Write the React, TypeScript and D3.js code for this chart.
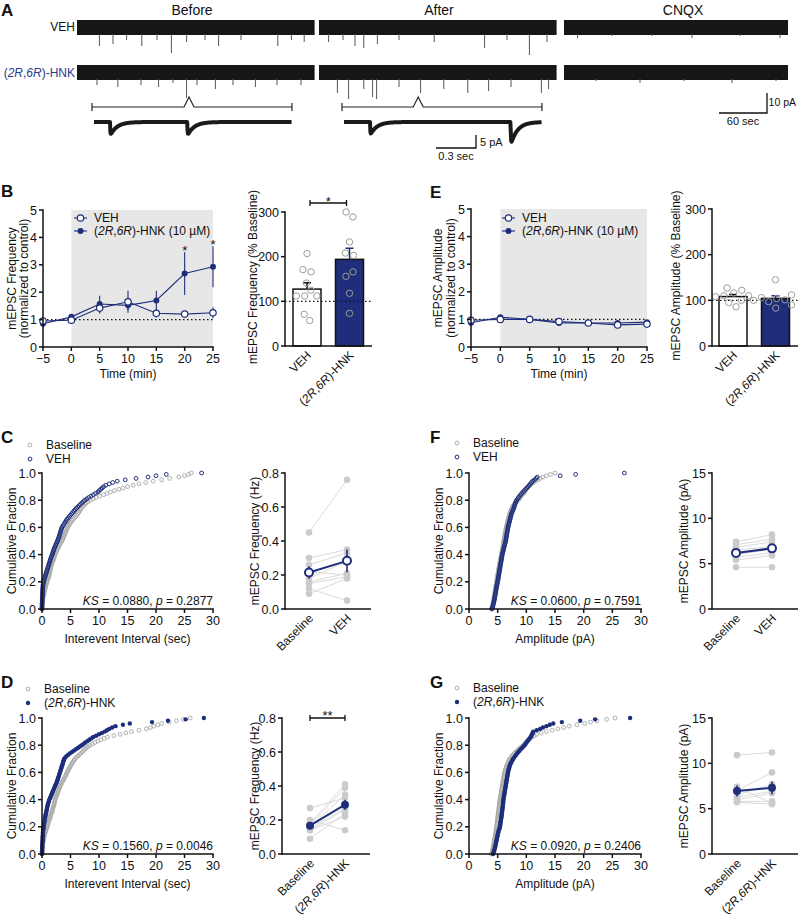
import * as d3 from "d3";

const FONT = "'Liberation Sans', Arial, Helvetica, sans-serif";
const NAVY = "#1f2e7a";
const INK = "#111111";
const GRAY_DOT = "#cbcbcb";
const GRAY_LINE = "#dadada";
const GRAY_OPEN = "#a6a6a6";
const SHADE = "#e7e7e7";

// ---------- A: example traces ----------
const conditions = ["Before", "After", "CNQX"];
const vehEventTimes = [
  [28, 45, 62, 81, 100, 118, 137, 160, 177, 205, 251, 268, 284],
  [12, 30, 45, 56, 73, 100, 144, 207, 235, 263, 285],
  [17, 60, 110, 160, 220, 270],
];
const vehEventAmps = [
  [9, 8, 6, 9, 6, 12.5, 7, 6, 9, 6, 9, 6, 7],
  [7, 6, 9, 10, 8, 6, 7, 10, 6, 13.5, 7],
  [5, 4, 4, 5, 4, 5],
];
const hnkEventTimes = [
  [25, 51, 80, 102, 120, 137, 150, 173, 195, 223, 250, 280],
  [23, 37, 56, 67, 72, 100, 127, 156, 186, 212, 240, 278, 287],
  [40, 95, 150, 210, 265],
];
const hnkEventAmps = [
  [6, 7, 6, 7, 5, 12.5, 6, 8, 6, 7, 6, 6],
  [10, 13, 8, 12, 13, 7, 10, 8, 10, 9, 7, 10, 8],
  [4, 5, 4, 5, 4],
];
const insetSourceTimes = [140, 124]; // sec within Before / After traces
const insetEventTimes = [
  [0.12, 0.7],
  [0.195, 1.25],
];
const insetEventAmps = [
  [5.4, 5.4],
  [5.2, 9],
];

// ---------- B / E: time course ----------
const timePoints = [-5, 0, 5, 10, 15, 20, 25];
const freqVeh = [0.95, 0.98, 1.42, 1.65, 1.23, 1.2, 1.25];
const freqVehSem = [0.05, 0.05, 0.2, 0.4, 0.15, 0.08, 0.2];
const freqHnk = [0.85, 1.1, 1.57, 1.52, 1.7, 2.68, 2.93];
const freqHnkSem = [0.05, 0.05, 0.3, 0.17, 0.35, 0.78, 0.75];
const freqStarTimes = [20, 25];
const ampVeh = [0.97, 1.0, 1.0, 0.92, 0.87, 0.8, 0.83];
const ampVehSem = [0.03, 0.03, 0.03, 0.05, 0.04, 0.05, 0.05];
const ampHnk = [0.88, 1.08, 1.0, 0.87, 0.87, 0.87, 0.9];
const ampHnkSem = [0.04, 0.05, 0.03, 0.04, 0.04, 0.05, 0.05];

// % baseline per cell
const freqPctVeh = [207, 171, 166, 141, 125, 112, 112, 112, 71, 57];
const freqPctHnk = [300, 289, 233, 208, 203, 166, 156, 118, 73];
const ampPctVeh = [127, 122, 116, 110, 110, 108, 100, 95, 86];
const ampPctHnk = [145, 112, 106, 104, 101, 100, 97, 90, 83];

// ---------- C / D / F / G: cumulative distributions (sorted pooled events) ----------
const iviVehBaseline = [
  0, 0.01, 0.02, 0.03, 0.05, 0.07, 0.1, 0.13, 0.17, 0.22, 0.3,
  0.35, 0.4, 0.45, 0.5, 0.55, 0.6, 0.67, 0.74, 0.82, 0.9,
  0.97, 1.05, 1.12, 1.2, 1.25, 1.3, 1.35, 1.4, 1.45, 1.5,
  1.57, 1.65, 1.72, 1.8, 1.9, 2.0, 2.07, 2.15, 2.22, 2.3,
  2.4, 2.5, 2.6, 2.7, 2.82, 2.95, 3.07, 3.2, 3.35, 3.5,
  3.6, 3.7, 3.8, 3.9, 4.0, 4.1, 4.2, 4.3, 4.4, 4.5,
  4.65, 4.8, 4.95, 5.1, 5.3, 5.5, 5.7, 5.9, 6.1, 6.3,
  6.45, 6.6, 6.75, 6.9, 7.1, 7.3, 7.55, 7.8, 8.1, 8.5,
  9.0, 9.5, 10.1, 10.8, 11.4, 12.0, 12.7, 13.5, 14.2, 15.0,
  16.0, 17.0, 18.2, 19.5, 21.0, 22.4, 24.0, 25.0, 25.7, 26.2,
];
const iviVeh = [
  0, 0.005, 0.01, 0.015, 0.02, 0.03, 0.04, 0.05, 0.06, 0.07, 0.08,
  0.09, 0.1, 0.11, 0.12, 0.13, 0.15, 0.17, 0.2, 0.25, 0.3,
  0.35, 0.4, 0.47, 0.55, 0.62, 0.7, 0.77, 0.85, 0.92, 1.0,
  1.07, 1.15, 1.22, 1.3, 1.37, 1.45, 1.52, 1.6, 1.7, 1.8,
  1.87, 1.95, 2.02, 2.1, 2.2, 2.3, 2.4, 2.5, 2.6, 2.7,
  2.8, 2.9, 2.97, 3.05, 3.12, 3.2, 3.27, 3.35, 3.42, 3.5,
  3.65, 3.8, 3.95, 4.1, 4.25, 4.4, 4.6, 4.8, 5.0, 5.2,
  5.4, 5.6, 5.8, 6.0, 6.25, 6.5, 6.75, 7.0, 7.25, 7.5,
  7.85, 8.2, 8.6, 9.0, 9.4, 9.8, 10.05, 10.3, 10.55, 10.8,
  11.2, 11.8, 12.4, 13.2, 14.6, 16.5, 18.6, 20.0, 21.8, 28.0,
];
const ampVehBaseline = [
  3.9, 3.98, 4.05, 4.1, 4.15, 4.2, 4.25, 4.3, 4.35, 4.38, 4.42,
  4.46, 4.5, 4.54, 4.58, 4.62, 4.66, 4.7, 4.73, 4.77, 4.8,
  4.84, 4.88, 4.92, 4.96, 5.0, 5.04, 5.08, 5.12, 5.16, 5.2,
  5.24, 5.28, 5.32, 5.37, 5.41, 5.46, 5.51, 5.56, 5.61, 5.66,
  5.7, 5.74, 5.78, 5.82, 5.86, 5.9, 5.94, 5.98, 6.02, 6.06,
  6.1, 6.14, 6.18, 6.22, 6.26, 6.3, 6.35, 6.4, 6.45, 6.5,
  6.55, 6.6, 6.66, 6.72, 6.78, 6.84, 6.9, 6.96, 7.03, 7.1,
  7.17, 7.25, 7.35, 7.45, 7.57, 7.7, 7.9, 8.1, 8.35, 8.6,
  8.75, 8.9, 9.1, 9.3, 9.5, 9.7, 9.85, 10.0, 10.2, 10.4,
  10.65, 10.9, 11.25, 11.6, 12.0, 12.4, 12.9, 13.5, 14.2, 15.0,
];
const ampVehCells = [
  4.0, 4.08, 4.15, 4.22, 4.28, 4.33, 4.38, 4.43, 4.48, 4.52, 4.56,
  4.6, 4.64, 4.68, 4.72, 4.76, 4.8, 4.85, 4.9, 4.95, 5.0,
  5.04, 5.08, 5.12, 5.16, 5.2, 5.24, 5.28, 5.32, 5.36, 5.4,
  5.44, 5.48, 5.52, 5.56, 5.6, 5.64, 5.68, 5.72, 5.76, 5.8,
  5.86, 5.92, 5.98, 6.04, 6.1, 6.16, 6.22, 6.28, 6.34, 6.4,
  6.44, 6.48, 6.52, 6.56, 6.6, 6.64, 6.68, 6.72, 6.76, 6.8,
  6.86, 6.92, 6.98, 7.04, 7.1, 7.16, 7.22, 7.28, 7.34, 7.4,
  7.5, 7.6, 7.7, 7.8, 7.88, 7.95, 8.02, 8.1, 8.2, 8.3,
  8.47, 8.65, 8.82, 9.0, 9.2, 9.4, 9.62, 9.85, 10.07, 10.3,
  10.5, 10.7, 10.9, 11.1, 11.4, 11.7, 11.9, 15.9, 18.6, 27.1,
];
const iviHnkBaseline = [
  0, 0.015, 0.03, 0.045, 0.06, 0.08, 0.1, 0.12, 0.15, 0.2, 0.25,
  0.3, 0.35, 0.4, 0.45, 0.52, 0.6, 0.67, 0.75, 0.82, 0.9,
  0.97, 1.05, 1.12, 1.2, 1.27, 1.35, 1.42, 1.5, 1.57, 1.65,
  1.72, 1.8, 1.87, 1.95, 2.02, 2.1, 2.15, 2.2, 2.25, 2.3,
  2.37, 2.45, 2.55, 2.65, 2.75, 2.85, 2.92, 3.0, 3.1, 3.2,
  3.32, 3.45, 3.57, 3.7, 3.82, 3.95, 4.07, 4.2, 4.3, 4.4,
  4.52, 4.65, 4.77, 4.9, 5.05, 5.2, 5.35, 5.5, 5.65, 5.8,
  6.05, 6.3, 6.55, 6.8, 7.05, 7.3, 7.55, 7.8, 8.1, 8.4,
  8.85, 9.3, 9.8, 10.3, 10.9, 11.5, 12.6, 13.7, 14.7, 15.7,
  17.0, 18.3, 19.0, 19.6, 20.3, 21.0, 22.3, 23.6, 24.8, 26.0,
];
const iviHnk = [
  0, 0.01, 0.02, 0.03, 0.04, 0.05, 0.06, 0.07, 0.08, 0.09, 0.1,
  0.11, 0.12, 0.135, 0.15, 0.165, 0.18, 0.2, 0.22, 0.25, 0.28,
  0.31, 0.35, 0.38, 0.42, 0.46, 0.5, 0.55, 0.6, 0.65, 0.7,
  0.75, 0.8, 0.85, 0.9, 0.95, 1.0, 1.07, 1.15, 1.22, 1.3,
  1.4, 1.5, 1.6, 1.7, 1.8, 1.9, 2.0, 2.1, 2.2, 2.3,
  2.4, 2.5, 2.6, 2.7, 2.77, 2.85, 2.92, 3.0, 3.07, 3.15,
  3.22, 3.3, 3.37, 3.45, 3.52, 3.6, 3.67, 3.75, 3.82, 3.9,
  4.1, 4.3, 4.6, 4.9, 5.25, 5.6, 5.95, 6.3, 6.65, 7.0,
  7.3, 7.6, 7.95, 8.3, 8.65, 9.0, 9.5, 10.0, 10.5, 11.0,
  11.4, 11.8, 12.3, 12.9, 14.2, 15.4, 19.3, 22.1, 25.2, 28.4,
];
const ampHnkBaseline = [
  3.9, 3.98, 4.05, 4.1, 4.15, 4.2, 4.25, 4.3, 4.35, 4.38, 4.42,
  4.46, 4.5, 4.54, 4.58, 4.62, 4.66, 4.7, 4.73, 4.77, 4.8,
  4.83, 4.86, 4.89, 4.92, 4.95, 4.98, 5.01, 5.04, 5.07, 5.1,
  5.13, 5.16, 5.19, 5.22, 5.25, 5.28, 5.31, 5.34, 5.37, 5.4,
  5.44, 5.48, 5.52, 5.56, 5.6, 5.64, 5.68, 5.72, 5.76, 5.8,
  5.84, 5.88, 5.92, 5.96, 6.0, 6.04, 6.08, 6.12, 6.16, 6.2,
  6.27, 6.35, 6.42, 6.5, 6.6, 6.7, 6.8, 6.9, 7.0, 7.1,
  7.3, 7.5, 7.7, 7.9, 8.15, 8.4, 8.65, 8.9, 9.2, 9.5,
  9.7, 9.9, 10.1, 10.3, 10.65, 11.0, 11.4, 11.8, 12.6, 13.5,
  14.5, 15.5, 16.5, 17.5, 18.8, 20.2, 21.2, 22.3, 24.0, 25.5,
];
const ampHnkCells = [
  4.2, 4.28, 4.35, 4.42, 4.5, 4.55, 4.6, 4.65, 4.7, 4.75, 4.8,
  4.85, 4.9, 4.95, 5.0, 5.05, 5.1, 5.17, 5.25, 5.32, 5.4,
  5.44, 5.47, 5.5, 5.54, 5.58, 5.61, 5.65, 5.68, 5.71, 5.74,
  5.77, 5.8, 5.83, 5.86, 5.89, 5.92, 5.94, 5.96, 5.98, 6.0,
  6.04, 6.08, 6.12, 6.16, 6.2, 6.24, 6.28, 6.32, 6.36, 6.4,
  6.44, 6.48, 6.52, 6.56, 6.6, 6.64, 6.68, 6.72, 6.76, 6.8,
  6.86, 6.92, 6.98, 7.04, 7.12, 7.2, 7.32, 7.45, 7.57, 7.7,
  7.87, 8.05, 8.22, 8.4, 8.6, 8.8, 9.02, 9.25, 9.47, 9.7,
  9.87, 10.05, 10.22, 10.4, 10.57, 10.75, 10.87, 11.0, 11.1, 11.2,
  11.8, 12.4, 12.9, 13.5, 14.1, 14.7, 16.2, 19.4, 22.0, 28.1,
];
const ksStats = ["0.0880", "0.0600", "0.1560", "0.0920"];
const ksP = ["0.2877", "0.7591", "0.0046", "0.2406"];

// paired cell means
const vehFreqBase = [0.45, 0.3, 0.26, 0.22, 0.18, 0.16, 0.15, 0.12, 0.09];
const vehFreqAfter = [0.76, 0.35, 0.33, 0.2, 0.28, 0.21, 0.19, 0.05, 0.18];
const vehAmpBase = [7.4, 7.1, 6.8, 6.5, 6.0, 5.7, 5.4, 4.6];
const vehAmpAfter = [8.2, 7.7, 7.4, 6.9, 6.6, 6.2, 5.9, 4.6];
const hnkFreqBase = [0.27, 0.2, 0.18, 0.17, 0.16, 0.15, 0.14, 0.14, 0.09];
const hnkFreqAfter = [0.33, 0.14, 0.41, 0.39, 0.35, 0.27, 0.26, 0.22, 0.24];
const hnkAmpBase = [10.9, 7.4, 7.0, 6.5, 6.3, 6.0, 5.8, 5.7];
const hnkAmpAfter = [11.2, 5.6, 9.0, 7.7, 6.9, 6.7, 5.8, 5.5];

const sem = (a: number[]) => (d3.deviation(a) || 0) / Math.sqrt(a.length);
const f1 = d3.format(".1f");
const f0 = d3.format("d");

const Hnk = ({ extra = "" }: { extra?: string }) => (
  <>
    <tspan>(</tspan>
    <tspan fontStyle="italic">2R</tspan>
    <tspan>,</tspan>
    <tspan fontStyle="italic">6R</tspan>
    <tspan>)-HNK{extra}</tspan>
  </>
);

function YAxis({ scale, x, ticks, fmt }: any) {
  const [b, t] = scale.range();
  return (
    <g>
      <line x1={x} x2={x} y1={b} y2={t} stroke={INK} strokeWidth={1.5} strokeLinecap="square" />
      {ticks.map((v: number) => (
        <g key={v}>
          <line x1={x - 4} x2={x} y1={scale(v)} y2={scale(v)} stroke={INK} strokeWidth={1.5} />
          <text x={x - 6} y={scale(v)} dy="0.36em" textAnchor="end" fontSize={12.5}>
            {fmt(v)}
          </text>
        </g>
      ))}
    </g>
  );
}

function XAxis({ scale, y, ticks, fmt }: any) {
  const [l, r] = scale.range();
  return (
    <g>
      <line x1={l} x2={r} y1={y} y2={y} stroke={INK} strokeWidth={1.5} strokeLinecap="square" />
      {ticks.map((v: number) => (
        <g key={v}>
          <line x1={scale(v)} x2={scale(v)} y1={y} y2={y + 4} stroke={INK} strokeWidth={1.5} />
          <text x={scale(v)} y={y + 16} textAnchor="middle" fontSize={12.5}>
            {fmt(v)}
          </text>
        </g>
      ))}
    </g>
  );
}

const VTitle = ({ x, y, children }: any) => (
  <text transform={`translate(${x},${y}) rotate(-90)`} textAnchor="middle" fontSize={12}>
    {children}
  </text>
);

const Slanted = ({ x, y, children }: any) => (
  <text transform={`translate(${x + 5},${y + 10}) rotate(-45)`} textAnchor="end" fontSize={12}>
    {children}
  </text>
);

// ---------- panel A ----------
const PX_PER_SEC = 0.8;
const PX_PER_PA = 2;
const segmentStart = [77, 319, 564];
const segmentDuration = [297, 297, 280];

function TraceRow({ cy, times, amps }: any) {
  return (
    <g>
      {conditions.map((c, k) => {
        const x = d3
          .scaleLinear()
          .domain([0, segmentDuration[k]])
          .range([segmentStart[k], segmentStart[k] + segmentDuration[k] * PX_PER_SEC]);
        return (
          <g key={c}>
            <rect x={x(0)} y={cy - 8} width={x(segmentDuration[k]) - x(0)} height={15} fill="#161616" />
            {times[k].map((t: number, i: number) => (
              <line key={i} x1={x(t)} x2={x(t)} y1={cy + 6} y2={cy + amps[k][i] * PX_PER_PA} stroke="#555" strokeWidth={1} />
            ))}
          </g>
        );
      })}
    </g>
  );
}

function Inset({ k }: { k: number }) {
  const x0 = [94, 344][k];
  const dur = 1.485;
  const cy = 122;
  const pxPerPa = 2.6;
  const x = d3.scaleLinear().domain([0, dur]).range([x0, x0 + dur * 133.3]);
  const pts = d3.range(0, dur, 0.003).map((t) => {
    let dip = 0;
    insetEventTimes[k].forEach((t0, i) => {
      const s = t - t0;
      if (s > 0) dip += insetEventAmps[k][i] * (1 - Math.exp(-s / 0.002)) * Math.exp(-s / 0.05);
    });
    return [x(t), cy + dip * pxPerPa] as [number, number];
  });
  const path = d3.line()(pts) || "";
  // bracket above the inset, caret points at where the inset was taken from
  const src = segmentStart[k] + insetSourceTimes[k] * PX_PER_SEC;
  const bx0 = x0 - 2;
  const bx1 = x0 + dur * 133.3;
  const by = 107;
  return (
    <g>
      <path d={path} fill="none" stroke="#1a1a1a" strokeWidth={4} strokeLinejoin="round" />
      <path
        d={`M${bx0},${by}H${src - 5}L${src},${by - 10}L${src + 5},${by}H${bx1}M${bx0},${by - 4}V${by + 4}M${bx1},${by - 4}V${by + 4}`}
        fill="none"
        stroke="#222"
        strokeWidth={1.2}
      />
    </g>
  );
}

function PanelA() {
  return (
    <g>
      {conditions.map((c, k) => (
        <text key={c} x={[192, 439, 683][k]} y={15} textAnchor="middle" fontSize={14}>
          {c}
        </text>
      ))}
      <text x={75} y={31} textAnchor="end" fontSize={12}>VEH</text>
      <text x={75} y={77} textAnchor="end" fontSize={12} fill="#2b3b8c">
        <Hnk />
      </text>
      <TraceRow cy={28} times={vehEventTimes} amps={vehEventAmps} />
      <TraceRow cy={73} times={hnkEventTimes} amps={hnkEventAmps} />
      <Inset k={0} />
      <Inset k={1} />
      {/* scale bars */}
      <path d="M436,148H476V135" fill="none" stroke={INK} strokeWidth={1.3} />
      <text x={480} y={146} fontSize={11}>5 pA</text>
      <text x={456} y={160} textAnchor="middle" fontSize={11}>0.3 sec</text>
      <path d={`M719,113H${719 + 60 * PX_PER_SEC}V${113 - 10 * PX_PER_PA}`} fill="none" stroke={INK} strokeWidth={1.3} />
      <text x={796} y={106} textAnchor="end" fontSize={10.5}>10 pA</text>
      <text x={743} y={125} textAnchor="middle" fontSize={11}>60 sec</text>
    </g>
  );
}

// ---------- time course ----------
function TimeCourse({ x0, x1, yTop, yBot, veh, vehSem, hnk, hnkSem, stars, t1, t2, tx, legX }: any) {
  const x = d3.scaleLinear().domain([-5, 25]).range([x0, x1]);
  const y = d3.scaleLinear().domain([0, 5]).range([yBot, yTop]);
  const line = d3
    .line<number>()
    .x((_, i) => x(timePoints[i]))
    .y((d) => y(d));
  const errs = (vals: number[], s: number[]) =>
    vals.map((v, i) => (
      <line key={i} x1={x(timePoints[i])} x2={x(timePoints[i])} y1={y(v - s[i])} y2={y(v + s[i])} stroke={NAVY} strokeWidth={1.1} />
    ));
  return (
    <g>
      <rect x={x(0)} y={y(5)} width={x(25) - x(0)} height={y(0) - y(5)} fill={SHADE} />
      <line x1={x(-5)} x2={x(25)} y1={y(1)} y2={y(1)} stroke={INK} strokeWidth={1.3} strokeDasharray="1.5,2.5" />
      {errs(veh, vehSem)}
      {errs(hnk, hnkSem)}
      <path d={line(veh) || ""} fill="none" stroke={NAVY} strokeWidth={1.1} />
      <path d={line(hnk) || ""} fill="none" stroke={NAVY} strokeWidth={1.1} />
      {hnk.map((v: number, i: number) => (
        <circle key={"h" + i} cx={x(timePoints[i])} cy={y(v)} r={3} fill={NAVY} />
      ))}
      {veh.map((v: number, i: number) => (
        <circle key={"v" + i} cx={x(timePoints[i])} cy={y(v)} r={3.2} fill="#fff" stroke={NAVY} strokeWidth={1.2} />
      ))}
      {stars.map((t: number) => {
        const i = timePoints.indexOf(t);
        return (
          <text key={t} x={x(t)} y={y(hnk[i] + hnkSem[i]) + 3} textAnchor="middle" fontSize={13}>
            *
          </text>
        );
      })}
      <YAxis scale={y} x={x0} ticks={[0, 1, 2, 3, 4, 5]} fmt={f0} />
      <XAxis scale={x} y={yBot} ticks={timePoints} fmt={f0} />
      <text x={(x0 + x1) / 2} y={yBot + 31} textAnchor="middle" fontSize={12}>Time (min)</text>
      <VTitle x={tx[0]} y={(yTop + yBot) / 2}>{t1}</VTitle>
      <VTitle x={tx[1]} y={(yTop + yBot) / 2}>{t2}</VTitle>
      {/* legend */}
      <line x1={legX} x2={legX + 13} y1={218} y2={218} stroke={NAVY} strokeWidth={1.1} />
      <circle cx={legX + 6.5} cy={218} r={3.2} fill="#fff" stroke={NAVY} strokeWidth={1.2} />
      <text x={legX + 20} y={222} fontSize={12}>VEH</text>
      <line x1={legX} x2={legX + 13} y1={231} y2={231} stroke={NAVY} strokeWidth={1.1} />
      <circle cx={legX + 6.5} cy={231} r={3} fill={NAVY} />
      <text x={legX + 20} y={235} fontSize={12}>
        <Hnk extra=" (10 µM)" />
      </text>
    </g>
  );
}

function swarm(vals: number[], cx: number, y: any) {
  const nodes: any[] = vals.map((v) => ({ x: cx, y: y(v), fy: y(v) }));
  const sim = d3
    .forceSimulation(nodes)
    .force("x", d3.forceX(cx).strength(0.05))
    .force("c", d3.forceCollide(4.2))
    .stop();
  for (let i = 0; i < 250; i++) sim.tick();
  return nodes.map((n) => [n.x, n.fy]);
}

function BarPanel({ axisX, axisEnd, yTop, yBot, centers, groups, title, tx, sig }: any) {
  const y = d3.scaleLinear().domain([0, 300]).range([yBot, yTop]);
  const bw = 28;
  return (
    <g>
      {groups.map((g: number[], k: number) => {
        const m = d3.mean(g) || 0;
        const s = sem(g);
        return (
          <g key={k}>
            <rect x={centers[k] - bw / 2} y={y(m)} width={bw} height={yBot - y(m)} fill={k === 0 ? "#fff" : NAVY} stroke={INK} strokeWidth={1.5} />
            <path d={`M${centers[k]},${y(m)}V${y(m + s)}M${centers[k] - 4},${y(m + s)}H${centers[k] + 4}`} stroke={k === 0 ? INK : NAVY} strokeWidth={1.5} fill="none" />
          </g>
        );
      })}
      <line x1={axisX} x2={axisEnd} y1={y(100)} y2={y(100)} stroke={INK} strokeWidth={1.3} strokeDasharray="1.5,2.5" />
      {groups.map((g: number[], k: number) =>
        swarm(g, centers[k], y).map((p, i) => (
          <circle key={k + "-" + i} cx={p[0]} cy={p[1]} r={3.2} fill="none" stroke="#9c9c9c" strokeWidth={1} />
        ))
      )}
      <YAxis scale={y} x={axisX} ticks={[0, 100, 200, 300]} fmt={f0} />
      <line x1={axisX} x2={axisEnd} y1={yBot} y2={yBot} stroke={INK} strokeWidth={1.5} />
      <VTitle x={tx} y={(yTop + yBot) / 2 - 2}>{title}</VTitle>
      <Slanted x={centers[0]} y={yBot}>VEH</Slanted>
      <Slanted x={centers[1]} y={yBot}>
        <Hnk />
      </Slanted>
      {sig && (
        <g>
          <path d={`M${centers[0] + 3},${sig}H${centers[1] - 3}M${centers[0] + 3},${sig - 3}V${sig + 3}M${centers[1] - 3},${sig - 3}V${sig + 3}`} stroke={INK} strokeWidth={1.3} fill="none" />
          <text x={(centers[0] + centers[1]) / 2} y={sig + 3} textAnchor="middle" fontSize={13}>*</text>
        </g>
      )}
    </g>
  );
}

function CdfPanel({ x0, x1, yTop, yBot, base, treat, filled, idx, xTitle, tx, legX, legY, treatLabel }: any) {
  const x = d3.scaleLinear().domain([0, 30]).range([x0, x1]);
  const y = d3.scaleLinear().domain([0, 1]).range([yBot, yTop]);
  const frac = (i: number, n: number) => i / (n - 1);
  return (
    <g>
      {base.map((v: number, i: number) => (
        <circle key={"b" + i} cx={x(v)} cy={y(frac(i, base.length))} r={1.9} fill="none" stroke={GRAY_OPEN} strokeWidth={0.9} />
      ))}
      {treat.map((v: number, i: number) =>
        filled ? (
          <circle key={"t" + i} cx={x(v)} cy={y(frac(i, treat.length))} r={2.2} fill={NAVY} />
        ) : (
          <circle key={"t" + i} cx={x(v)} cy={y(frac(i, treat.length))} r={1.9} fill="none" stroke={NAVY} strokeWidth={1} />
        )
      )}
      <YAxis scale={y} x={x0} ticks={[0, 0.2, 0.4, 0.6, 0.8, 1]} fmt={f1} />
      <XAxis scale={x} y={yBot} ticks={[0, 5, 10, 15, 20, 25, 30]} fmt={f0} />
      <text x={x1} y={yBot - 4} textAnchor="end" fontSize={12}>
        <tspan fontStyle="italic">KS</tspan> = {ksStats[idx]}, <tspan fontStyle="italic">p</tspan> = {ksP[idx]}
      </text>
      <text x={(x0 + x1) / 2} y={yBot + 34} textAnchor="middle" fontSize={12}>{xTitle}</text>
      <VTitle x={tx} y={(yTop + yBot) / 2}>Cumulative Fraction</VTitle>
      <circle cx={legX} cy={legY} r={1.9} fill="none" stroke={GRAY_OPEN} strokeWidth={0.9} />
      <text x={legX + 16} y={legY + 4} fontSize={12}>Baseline</text>
      {filled ? (
        <circle cx={legX} cy={legY + 14} r={2.2} fill={NAVY} />
      ) : (
        <circle cx={legX} cy={legY + 14} r={1.9} fill="none" stroke={NAVY} strokeWidth={1} />
      )}
      <text x={legX + 16} y={legY + 18} fontSize={12}>{treatLabel}</text>
    </g>
  );
}

function PairedPanel({ axisX, axisEnd, yTop, yBot, cx, base, after, max, ticks, fmt, filled, title, tx, label2, sig }: any) {
  const y = d3.scaleLinear().domain([0, max]).range([yBot, yTop]);
  const means = [d3.mean(base) || 0, d3.mean(after) || 0];
  const sems = [sem(base), sem(after)];
  return (
    <g>
      {base.map((b: number, i: number) => (
        <line key={"l" + i} x1={cx[0]} x2={cx[1]} y1={y(b)} y2={y(after[i])} stroke={GRAY_LINE} strokeWidth={1} />
      ))}
      {base.map((b: number, i: number) => (
        <circle key={"b" + i} cx={cx[0]} cy={y(b)} r={3.3} fill={GRAY_DOT} />
      ))}
      {after.map((a: number, i: number) => (
        <circle key={"a" + i} cx={cx[1]} cy={y(a)} r={3.3} fill={GRAY_DOT} />
      ))}
      <line x1={cx[0]} x2={cx[1]} y1={y(means[0])} y2={y(means[1])} stroke={NAVY} strokeWidth={2} />
      {means.map((m, k) => (
        <line key={"e" + k} x1={cx[k]} x2={cx[k]} y1={y(m - sems[k])} y2={y(m + sems[k])} stroke={NAVY} strokeWidth={1.6} />
      ))}
      {means.map((m, k) =>
        filled ? (
          <circle key={"m" + k} cx={cx[k]} cy={y(m)} r={4} fill={NAVY} />
        ) : (
          <circle key={"m" + k} cx={cx[k]} cy={y(m)} r={4} fill="#fff" stroke={NAVY} strokeWidth={2} />
        )
      )}
      <YAxis scale={y} x={axisX} ticks={ticks} fmt={fmt} />
      <line x1={axisX} x2={axisEnd} y1={yBot} y2={yBot} stroke={INK} strokeWidth={1.5} />
      <VTitle x={tx} y={(yTop + yBot) / 2}>{title}</VTitle>
      <Slanted x={cx[0]} y={yBot}>Baseline</Slanted>
      <Slanted x={cx[1]} y={yBot}>{label2}</Slanted>
      {sig && (
        <g>
          <path d={`M${cx[0]},${y(max)}H${cx[1]}M${cx[0]},${y(max) - 3}V${y(max) + 3}M${cx[1]},${y(max) - 3}V${y(max) + 3}`} stroke={INK} strokeWidth={1.3} fill="none" />
          <text x={(cx[0] + cx[1]) / 2} y={y(max) + 2} textAnchor="middle" fontSize={13}>{sig}</text>
        </g>
      )}
    </g>
  );
}

const Letter = ({ x, y, c }: any) => (
  <text x={x} y={y} fontSize={17} fontWeight="bold">{c}</text>
);

export default function App() {
  return (
    <svg
      width={798}
      height={916}
      viewBox="0 0 798 916"
      fontFamily={FONT}
      fill={INK}
      style={{ position: "absolute", left: 0, top: 0, background: "#fff" }}
    >
      <rect width={798} height={916} fill="#fff" />
      <Letter x={1} y={16} c="A" />
      <Letter x={1} y={197} c="B" />
      <Letter x={430} y={198} c="E" />
      <Letter x={1} y={443} c="C" />
      <Letter x={430} y={443} c="F" />
      <Letter x={1} y={688} c="D" />
      <Letter x={430} y={688} c="G" />

      <PanelA />

      <TimeCourse
        x0={43} x1={213} yTop={210} yBot={347}
        veh={freqVeh} vehSem={freqVehSem} hnk={freqHnk} hnkSem={freqHnkSem}
        stars={freqStarTimes} t1="mEPSC Frequency" t2="(normalized to control)" tx={[16, 28]} legX={74}
      />
      <BarPanel
        axisX={285} axisEnd={372} yTop={212} yBot={346} centers={[307, 349.5]}
        groups={[freqPctVeh, freqPctHnk]} title="mEPSC Frequency (% Baseline)" tx={257} sig={203}
      />
      <TimeCourse
        x0={471} x1={647} yTop={209} yBot={347}
        veh={ampVeh} vehSem={ampVehSem} hnk={ampHnk} hnkSem={ampHnkSem}
        stars={[]} t1="mEPSC Amplitude" t2="(normalized to control)" tx={[442, 455]} legX={502}
      />
      <BarPanel
        axisX={712} axisEnd={798} yTop={209} yBot={346} centers={[733, 775.5]}
        groups={[ampPctVeh, ampPctHnk]} title="mEPSC Amplitude (% Baseline)" tx={680} sig={null}
      />

      <CdfPanel
        x0={42} x1={213} yTop={473} yBot={609} base={iviVehBaseline} treat={iviVeh} filled={false} idx={0}
        xTitle="Interevent Interval (sec)" tx={16} legX={30} legY={445} treatLabel="VEH"
      />
      <PairedPanel
        axisX={285} axisEnd={371} yTop={473} yBot={609} cx={[309, 347]} base={vehFreqBase} after={vehFreqAfter}
        max={0.8} ticks={[0, 0.2, 0.4, 0.6, 0.8]} fmt={f1} filled={false} title="mEPSC Frequency (Hz)" tx={259} label2="VEH" sig={null}
      />
      <CdfPanel
        x0={469} x1={641} yTop={473} yBot={609} base={ampVehBaseline} treat={ampVehCells} filled={false} idx={1}
        xTitle="Amplitude (pA)" tx={443} legX={457} legY={443} treatLabel="VEH"
      />
      <PairedPanel
        axisX={712} axisEnd={798} yTop={473} yBot={609} cx={[736, 772]} base={vehAmpBase} after={vehAmpAfter}
        max={15} ticks={[0, 5, 10, 15]} fmt={f0} filled={false} title="mEPSC Amplitude (pA)" tx={688} label2="VEH" sig={null}
      />

      <CdfPanel
        x0={42} x1={213} yTop={718} yBot={854} base={iviHnkBaseline} treat={iviHnk} filled={true} idx={2}
        xTitle="Interevent Interval (sec)" tx={16} legX={28} legY={689} treatLabel={<Hnk />}
      />
      <PairedPanel
        axisX={282} axisEnd={370} yTop={718} yBot={854} cx={[310, 345]} base={hnkFreqBase} after={hnkFreqAfter}
        max={0.8} ticks={[0, 0.2, 0.4, 0.6, 0.8]} fmt={f1} filled={true} title="mEPSC Frequency (Hz)" tx={259} label2={<Hnk />} sig="**"
      />
      <CdfPanel
        x0={469} x1={641} yTop={718} yBot={854} base={ampHnkBaseline} treat={ampHnkCells} filled={true} idx={3}
        xTitle="Amplitude (pA)" tx={443} legX={457} legY={688} treatLabel={<Hnk />}
      />
      <PairedPanel
        axisX={712} axisEnd={798} yTop={718} yBot={854} cx={[737, 772]} base={hnkAmpBase} after={hnkAmpAfter}
        max={15} ticks={[0, 5, 10, 15]} fmt={f0} filled={true} title="mEPSC Amplitude (pA)" tx={688} label2={<Hnk />} sig={null}
      />
    </svg>
  );
}
